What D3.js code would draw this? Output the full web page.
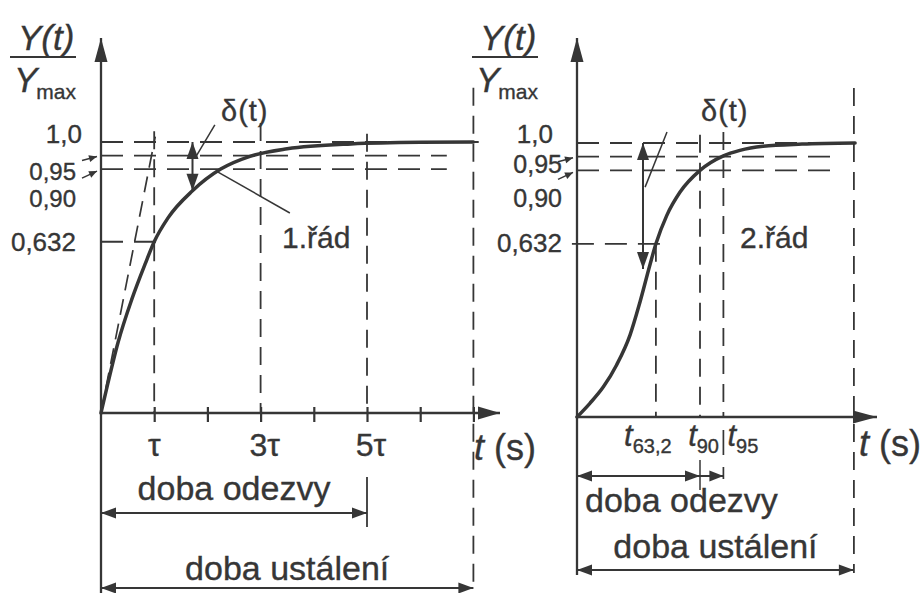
<!DOCTYPE html>
<html>
<head>
<meta charset="utf-8">
<script src="https://cdn.jsdelivr.net/npm/d3@7"></script>
<style>
  body { margin: 0; background: #fff; }
  text { font-family: "Liberation Sans", Arial, Helvetica, sans-serif; fill: #363636; stroke: #363636; stroke-width: 0.35px; }
</style>
</head>
<body>
<svg id="chart" width="920" height="593"></svg>
<script>
// First-order step response, time in units of τ
const firstT = [0, 0.13, 0.32, 0.58, 0.83, 1.0, 1.26, 1.72, 2.25, 2.8, 3.5, 4.7, 6.0, 7.0];
const firstY = [0, 0.11, 0.26, 0.42, 0.55, 0.632, 0.72, 0.82, 0.90, 0.947, 0.975, 0.993, 0.999, 1.0];
// Second-order step response, time in arbitrary units
const secondT = [0, 0.43, 0.88, 1.32, 1.77, 2.1, 2.43, 2.63, 2.99, 3.43, 4.1, 4.88, 5.43, 6.2, 7.5, 9.27];
const secondY = [0, 0.05, 0.11, 0.19, 0.30, 0.42, 0.555, 0.632, 0.735, 0.82, 0.90, 0.953, 0.973, 0.988, 0.996, 1.0];

// Reference levels and their labels
const levels = [1.0, 0.95, 0.90, 0.632];
const levelLabels = ["1,0", "0,95", "0,90", "0,632"];

// First-order time axis
const firstTicks = [1, 2, 3, 4, 5, 6, 7];
const firstLabelTicks = [1, 3, 5];
const firstTickLabels = ["τ", "3τ", "5τ"];
const firstResponse = 5;   // doba odezvy = 5τ
const firstSettle = 7;     // doba ustálení
const firstDelta = 1.72;   // where δ(t) is shown

// Second-order time axis
const secondMarks = [2.63, 4.1, 4.88];
const secondMarkSubs = ["63,2", "90", "95"];
const secondSettle = 9.23;
const secondDelta = 2.2;
const secondDeltaLow = 0.54;

const svg = d3.select("#chart");
const ink = "#363636";
const DASH_H = "22,11";
const DASH_V = "18,10";

function seg(g, x1, y1, x2, y2, w, dash) {
  return g.append("line")
    .attr("x1", x1).attr("y1", y1).attr("x2", x2).attr("y2", y2)
    .attr("stroke", ink).attr("stroke-width", w)
    .attr("stroke-dasharray", dash || null);
}
function head(g, x, y, ang, len, half) {
  const c = Math.cos(ang), s = Math.sin(ang);
  const bx = x - c * len, by = y - s * len;
  const pts = [[x, y], [bx - s * half, by + c * half], [bx + s * half, by - c * half]];
  g.append("path").attr("d", "M" + pts.map(p => p.join(",")).join("L") + "Z").attr("fill", ink);
}
function arrow(g, x1, y1, x2, y2, both, len = 15, half = 5.5, w = 2) {
  const ang = Math.atan2(y2 - y1, x2 - x1);
  seg(g, x1, y1, x2, y2, w);
  head(g, x2, y2, ang, len, half);
  if (both) head(g, x1, y1, ang + Math.PI, len, half);
}
function label(g, x, y, txt, size, anchor) {
  return g.append("text").attr("x", x).attr("y", y)
    .attr("font-size", size).attr("text-anchor", anchor || "start").text(txt);
}
function ratioLabel(g, x) {
  g.append("text").attr("x", x).attr("y", 50).attr("font-size", 35)
    .attr("font-style", "italic").text("Y(t)");
  seg(g, x - 8, 57, x + 58, 57, 2.2);
  const d = g.append("text").attr("x", x - 4).attr("y", 92).attr("font-size", 35);
  d.append("tspan").attr("font-style", "italic").text("Y");
  d.append("tspan").attr("font-size", 21).attr("dy", 7).attr("dx", -1).text("max");
}
function timeLabel(g, x, y) {
  const t = g.append("text").attr("x", x).attr("y", y).attr("font-size", 36);
  t.append("tspan").attr("font-style", "italic").text("t");
  t.append("tspan").text(" (s)");
}
function levelPointers(g, x0, y) {
  arrow(g, x0 - 19, y(levels[1]) + 5, x0 - 4, y(levels[1]) + 1, false, 8, 3.5, 1.5);
  arrow(g, x0 - 19, y(levels[2]) + 9, x0 - 4, y(levels[2]) + 2, false, 8, 3.5, 1.5);
}

const lineGen = (x, y) => d3.line().x(d => x(d[0])).y(d => y(d[1])).curve(d3.curveMonotoneX);

// ---------- 1st order ----------
const xL = d3.scaleLinear().domain([0, 7.5]).range([101, 500]);
const yL = d3.scaleLinear().domain([0, 1]).range([413, 142]);
const gL = svg.append("g");

// horizontal guide levels
seg(gL, xL(0), yL(levels[0]), xL(7.1), yL(levels[0]), 1.8, DASH_H);
seg(gL, xL(0), yL(levels[1]), xL(6.5), yL(levels[1]), 1.8, DASH_H);
seg(gL, xL(0), yL(levels[2]), xL(6.5), yL(levels[2]), 1.8, DASH_H);
seg(gL, xL(0), yL(levels[3]), xL(1.2), yL(levels[3]), 1.8, DASH_H);
// vertical guides at τ, 3τ, 5τ and settling
seg(gL, xL(1), yL(1.04), xL(1), yL(0), 1.8, DASH_V);
seg(gL, xL(3), yL(1.07), xL(3), yL(0), 1.8, DASH_V);
seg(gL, xL(firstResponse), yL(1.03), xL(firstResponse), yL(0), 1.8, DASH_V);
seg(gL, xL(firstSettle), yL(1.2), xL(firstSettle), 590, 1.8, DASH_V);
seg(gL, xL(firstResponse), 477, xL(firstResponse), 527, 1.8);
// initial tangent
seg(gL, xL(0), yL(0), xL(1.02), yL(1.02), 1.7, "16,9");

// axes
arrow(gL, xL(0), 593, xL(0), 38, false, 24, 6.5, 2.3);
arrow(gL, xL(0), yL(0), xL(7.5), yL(0), false, 22, 6.5, 2.3);
const axL = gL.append("g").attr("transform", `translate(0,${yL(0)})`)
  .call(d3.axisBottom(xL).tickValues(firstTicks).tickSize(9).tickFormat(""));
axL.select(".domain").remove();
axL.selectAll(".tick line").attr("y1", -6).attr("stroke", ink).attr("stroke-width", 2.2);

// response curve
gL.append("path").datum(firstT.map((t, i) => [t, firstY[i]]))
  .attr("d", lineGen(xL, yL)).attr("fill", "none")
  .attr("stroke", ink).attr("stroke-width", 3.5).attr("stroke-linecap", "round");

// δ(t) arrow and leaders
const fDeltaY = firstY[firstT.indexOf(firstDelta)];
arrow(gL, xL(firstDelta), yL(1), xL(firstDelta), yL(fDeltaY), true, 17, 6, 2);
seg(gL, xL(2.14), yL(1.063), xL(1.79), yL(0.948), 1.5);
seg(gL, xL(2.2), yL(0.889), xL(3.55), yL(0.738), 1.5);
label(gL, 221, 121, "δ(t)", 29).attr("letter-spacing", 1);
label(gL, 282, 248, "1.řád", 30);

// level labels
label(gL, 82, yL(levels[0]) + 1, levelLabels[0], 26, "end");
label(gL, 76, yL(levels[1]) + 24.5, levelLabels[1], 24, "end");
label(gL, 76, yL(levels[2]) + 38, levelLabels[2], 24, "end");
label(gL, 76, yL(levels[3]) + 9, levelLabels[3], 26, "end");
levelPointers(gL, xL(0), yL);
ratioLabel(gL, 18);

// time labels
firstLabelTicks.forEach((t, i) => label(gL, xL(t) + (i ? 4 : 0), 456, firstTickLabels[i], 32, "middle"));
timeLabel(gL, 474, 460);

// durations
label(gL, (xL(0) + xL(firstResponse)) / 2, 500, "doba odezvy", 34, "middle");
arrow(gL, xL(0), 513, xL(firstResponse), 513, true);
label(gL, (xL(0) + xL(firstSettle)) / 2, 580, "doba ustálení", 34, "middle");
arrow(gL, xL(0), 588, xL(firstSettle), 588, true);

// ---------- 2nd order ----------
const xR = d3.scaleLinear().domain([0, 10]).range([577, 877]);
const yR = d3.scaleLinear().domain([0, 1]).range([417, 143]);
const gR = svg.append("g");

seg(gR, xR(0), yR(levels[0]), xR(9.3), yR(levels[0]), 1.8, DASH_H);
seg(gR, xR(0), yR(levels[1]), xR(8.8), yR(levels[1]), 1.8, DASH_H);
seg(gR, xR(0), yR(levels[2]), xR(8.8), yR(levels[2]), 1.8, DASH_H);
seg(gR, xR(-0.17), yR(levels[3]), xR(3.03), yR(levels[3]), 1.8, DASH_H);
// vertical guides at t63,2, t90, t95 and settling
seg(gR, xR(secondMarks[0]), yR(levels[3]), xR(secondMarks[0]), yR(0), 1.8, DASH_V);
seg(gR, xR(secondMarks[1]), yR(1.03), xR(secondMarks[1]), yR(0), 1.8, DASH_V);
seg(gR, xR(secondMarks[2]), yR(1.04), xR(secondMarks[2]), yR(0), 1.8, DASH_V);
seg(gR, xR(secondSettle), 88, xR(secondSettle), 573, 1.8, DASH_V);
seg(gR, xR(secondMarks[1]), 460, xR(secondMarks[1]), 490, 1.5);
seg(gR, xR(secondMarks[2]), 430, xR(secondMarks[2]), 455, 1.7);
seg(gR, xR(secondMarks[2]), 467, xR(secondMarks[2]), 479, 1.7);

// axes
arrow(gR, xR(0), 575, xR(0), 38, false, 24, 6.5, 2.3);
arrow(gR, xR(0), yR(0), xR(10), yR(0), false, 24, 6.5, 2.3);

// response curve
gR.append("path").datum(secondT.map((t, i) => [t, secondY[i]]))
  .attr("d", lineGen(xR, yR)).attr("fill", "none")
  .attr("stroke", ink).attr("stroke-width", 3.5).attr("stroke-linecap", "round");

// δ(t) arrow and slash
arrow(gR, xR(secondDelta), yR(1), xR(secondDelta), yR(secondDeltaLow), true, 17, 6, 2);
seg(gR, xR(3.0), yR(1.04), xR(2.27), yR(0.839), 1.5);
label(gR, 701, 121, "δ(t)", 29).attr("letter-spacing", 1);
label(gR, 740, 248, "2.řád", 30);

// level labels
label(gR, 553, yR(levels[0]) + 0, levelLabels[0], 26, "end");
label(gR, 562, yR(levels[1]) + 16, levelLabels[1], 25, "end");
label(gR, 562, yR(levels[2]) + 37, levelLabels[2], 25, "end");
label(gR, 562, yR(levels[3]) + 8, levelLabels[3], 26, "end");
levelPointers(gR, xR(0), yR);
ratioLabel(gR, 480);

// time marks t63,2, t90, t95
const markAnchor = ["middle", "end", "start"];
const markShift = [-8, 19, 4];
secondMarks.forEach((t, i) => {
  const tx = gR.append("text").attr("x", xR(t) + markShift[i]).attr("y", 446)
    .attr("font-size", 31).attr("text-anchor", markAnchor[i]);
  tx.append("tspan").attr("font-style", "italic").text("t");
  tx.append("tspan").attr("font-size", 20).attr("dy", 7).text(secondMarkSubs[i]);
});
timeLabel(gR, 859, 456);

// durations
arrow(gR, xR(0), 476, xR(secondMarks[1]), 476, true);
arrow(gR, xR(secondMarks[1]), 476, xR(secondMarks[2]), 476, false, 14, 5.5);
label(gR, 585, 512, "doba odezvy", 34);
label(gR, (xR(0) + xR(secondSettle)) / 2, 558, "doba ustálení", 34, "middle");
arrow(gR, xR(0), 570, xR(secondSettle), 570, true);
</script>
</body>
</html>
